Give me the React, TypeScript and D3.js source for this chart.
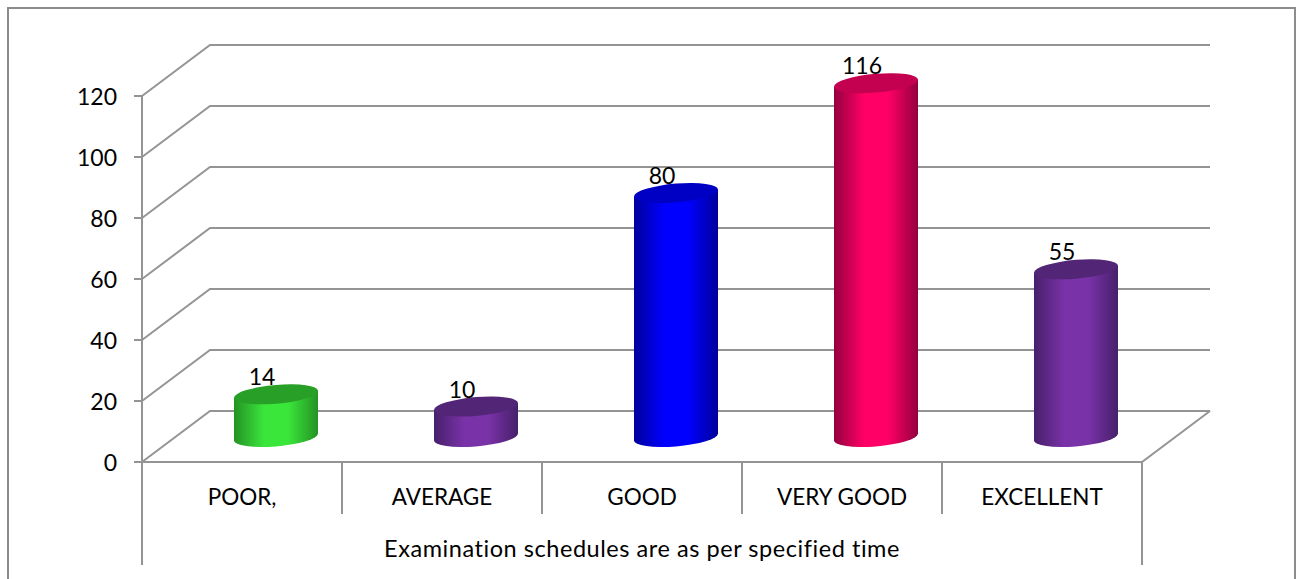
import React from "react";
import * as d3 from "d3";

const categories = ["POOR,", "AVERAGE", "GOOD", "VERY GOOD", "EXCELLENT"];
const values = [14, 10, 80, 116, 55];
const tickValues = [0, 20, 40, 60, 80, 100, 120];
const axisTitle = "Examination schedules are as per specified time";
const palettes = [
  { mid: "#3be63b", edge: "#249324", top: "#289f26" },
  { mid: "#7a32a8", edge: "#47206b", top: "#532577" },
  { mid: "#0000ff", edge: "#00009c", top: "#0000c4" },
  { mid: "#ff0066", edge: "#94003f", top: "#c40050" },
  { mid: "#7a32a8", edge: "#47206b", top: "#532577" },
];

const W = 1297, H = 579;
const LINE = "#949494";
const FONT = "Lato, Carlito, Calibri, sans-serif";
const DX = 68, DY = -51;
const RX = 42, RY = 9.4, SKEW = -0.083;

export default function App() {
  const y = d3.scaleLinear().domain([0, 120]).range([462, 96]);
  const x = d3.scaleBand<string>().domain(categories).range([142, 1142]);
  const baseCy = y(0) - 25;
  return (
    <svg width={W} height={H} viewBox={`0 0 ${W} ${H}`} style={{ position: "absolute", left: 0, top: 0, display: "block", background: "#fff" }}>
      <defs>
        {palettes.map((p, i) => (
          <linearGradient key={i} id={`g${i}`} x1="0" x2="1" y1="0" y2="0">
            <stop offset="0" stopColor={p.edge} />
            <stop offset="0.36" stopColor={p.mid} />
            <stop offset="0.64" stopColor={p.mid} />
            <stop offset="1" stopColor={p.edge} />
          </linearGradient>
        ))}
      </defs>
      <path d={`M8,${H + 2}V8H1295V${H + 2}`} fill="none" stroke="#8c8c8c" strokeWidth={2} />
      {tickValues.map((t) => (
        <g key={t} stroke={LINE} strokeWidth={2} fill="none">
          <path d={`M${x.range()[0]},${y(t)}l${DX},${DY}H${x.range()[1] + DX}`} />
          <line x1={134} x2={142} y1={y(t)} y2={y(t)} />
        </g>
      ))}
      <g stroke={LINE} strokeWidth={2} fill="none">
        <line x1={142} x2={142} y1={y(120)} y2={565} />
        <path d={`M142,${y(0)}H1142l${DX},${DY}`} />
        <line x1={1142} x2={1142} y1={y(0)} y2={565} />
        {categories.slice(1).map((c) => (
          <line key={c} x1={x(c)} x2={x(c)} y1={y(0)} y2={514} />
        ))}
      </g>
      {tickValues.map((t) => (
        <text key={t} x={117} y={y(t) + 9} textAnchor="end" fontFamily={FONT} fontSize={23} fill="#000">{t}</text>
      ))}
      {categories.map((c, i) => {
        const cx = x(c)! + x.bandwidth() / 2 + 34;
        const h = y(0) - y(values[i]);
        const p = palettes[i];
        return (
          <g key={c}>
            <g transform={`matrix(1,${SKEW},0,1,${cx},${baseCy - h})`}>
              <path d={`M${-RX},0V${h}A${RX},${RY} 0 0 0 ${RX},${h}V0Z`} fill={`url(#g${i})`} />
              <ellipse cx={0} cy={0} rx={RX} ry={RY} fill={p.top} />
            </g>
            <text x={cx - 14} y={baseCy - h - 9} textAnchor="middle" fontFamily={FONT} fontSize={23} fill="#000">{values[i]}</text>
            <text x={x(c)! + x.bandwidth() / 2} y={505} textAnchor="middle" fontFamily={FONT} fontSize={22.5} fill="#000">{c}</text>
          </g>
        );
      })}
      <text x={642} y={557} textAnchor="middle" fontFamily={FONT} fontSize={23.5} letterSpacing={0.55} fill="#000">{axisTitle}</text>
    </svg>
  );
}
